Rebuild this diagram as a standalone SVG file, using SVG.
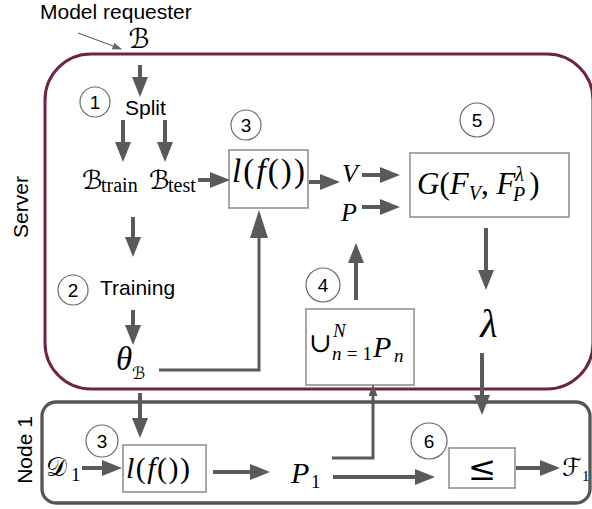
<svg xmlns="http://www.w3.org/2000/svg" width="592" height="509" viewBox="0 0 592 509">
  <defs>
    <style>
      .lbl { font-family: "Liberation Sans", Arial, sans-serif; font-size: 21px; fill: #000; }
      .num { font-family: "Liberation Sans", Arial, sans-serif; font-size: 19px; fill: #000; text-anchor: middle; }
      .m { font-family: "Liberation Serif", "Times New Roman", serif; fill: #000; }
      .it { font-style: italic; }
      .scr { font-family: "DejaVu Serif", "DejaVu Sans", serif; font-style: normal; fill: #000; }
      .box { fill: #fff; stroke: #8a8a8a; stroke-width: 1.5; }
      .step { fill: #fff; stroke: #6a6a6a; stroke-width: 1.2; }
      .arr { fill: none; stroke: #5a5a5a; stroke-width: 4; }
      .arr3 { fill: none; stroke: #5a5a5a; stroke-width: 3; }
    </style>
    <marker id="ah" viewBox="0 0 20 16" refX="0" refY="8" markerWidth="20" markerHeight="16" markerUnits="userSpaceOnUse" orient="auto">
      <path d="M0,0 L20,8 L0,16 Z" fill="#5a5a5a"/>
    </marker>
    <marker id="ahl" viewBox="0 0 28 18" refX="0" refY="9" markerWidth="28" markerHeight="18" markerUnits="userSpaceOnUse" orient="auto">
      <path d="M0,0 L28,9 L0,18 Z" fill="#5a5a5a"/>
    </marker>
    <marker id="ahs" viewBox="0 0 12 9" refX="0" refY="4.5" markerWidth="12" markerHeight="9" markerUnits="userSpaceOnUse" orient="auto">
      <path d="M0,0 L12,4.5 L0,9 Z" fill="#5a5a5a"/>
    </marker>
    <marker id="aht" viewBox="0 0 10 7" refX="0" refY="3.5" markerWidth="10" markerHeight="7" markerUnits="userSpaceOnUse" orient="auto">
      <path d="M0,0 L10,3.5 L0,7 Z" fill="#666"/>
    </marker>
  </defs>

  <rect width="592" height="509" fill="#fff"/>

  <!-- containers -->
  <g id="server">
    <rect x="45" y="54" width="548" height="335" rx="46" fill="none" stroke="#702348" stroke-width="3"/>
    <text class="lbl" transform="translate(28,207) rotate(-90)" text-anchor="middle">Server</text>
  </g>
  <g id="node1">
    <rect x="42" y="402" width="548" height="101" rx="14" fill="none" stroke="#555" stroke-width="3.3"/>
    <text class="lbl" transform="translate(32,450) rotate(-90)" text-anchor="middle">Node 1</text>
  </g>

  <!-- requester -->
  <g id="requester">
    <text class="lbl" x="40" y="19">Model requester</text>
    <text class="scr" x="139" y="48" font-size="27" text-anchor="middle">ℬ</text>
  </g>

  <!-- server side -->
  <g id="split">
    <text class="lbl" x="125" y="115">Split</text>
  </g>
  <g id="b-train">
    <text class="scr" x="82" y="189" font-size="26">ℬ</text>
    <text class="m" x="101" y="192" font-size="20">train</text>
  </g>
  <g id="b-test">
    <text class="scr" x="149" y="189" font-size="26">ℬ</text>
    <text class="m" x="168" y="192" font-size="20">test</text>
  </g>
  <g id="training">
    <text class="lbl" x="100" y="295">Training</text>
  </g>
  <g id="theta">
    <text class="m it" x="116" y="370" font-size="33">θ</text>
    <text class="scr" x="132" y="379" font-size="17">ℬ</text>
  </g>
  <g id="loss-server">
    <rect class="box" x="229" y="150" width="79" height="58"/>
    <text class="m" x="232" y="182" font-size="33" textLength="73" lengthAdjust="spacing"><tspan class="it">l</tspan>(<tspan class="it">f</tspan>())</text>
  </g>
  <g id="v-p">
    <text class="m it" x="342" y="182" font-size="26">V</text>
    <text class="m it" x="341" y="221" font-size="26">P</text>
  </g>
  <g id="g-box">
    <rect class="box" x="410" y="153" width="159" height="64"/>
    <text class="m" x="417" y="194" font-size="31"><tspan class="it">G</tspan>(<tspan class="it">F</tspan><tspan class="it" font-size="20" dy="6">V</tspan><tspan dy="-6">, </tspan><tspan class="it">F</tspan><tspan font-size="20" dy="-13" class="it">λ</tspan><tspan class="it" font-size="20" dx="-11" dy="20">P</tspan><tspan dy="-7" dx="4">)</tspan></text>
  </g>
  <g id="lambda">
    <text class="m it" x="489" y="337" font-size="40" text-anchor="middle">λ</text>
  </g>
  <g id="union">
    <rect class="box" x="306" y="309" width="108" height="76"/>
    <text class="scr" x="309" y="352" font-size="27">∪</text>
    <text class="m it" x="333" y="337" font-size="19">N</text>
    <text class="m" x="332" y="360" font-size="19" textLength="40" lengthAdjust="spacing"><tspan class="it">n</tspan>=1</text>
    <text class="m it" x="373" y="357" font-size="30">P</text>
    <text class="m it" x="394" y="362" font-size="19">n</text>
  </g>

  <!-- node side -->
  <g id="d1">
    <text class="scr" x="46" y="476" font-size="26">𝒟</text>
    <text class="m" x="71" y="481" font-size="19">1</text>
  </g>
  <g id="loss-node">
    <rect class="box" x="123" y="445" width="83" height="47"/>
    <text class="m" x="126" y="478" font-size="30" textLength="64" lengthAdjust="spacing"><tspan class="it">l</tspan>(<tspan class="it">f</tspan>())</text>
  </g>
  <g id="p1">
    <text class="m it" x="291" y="483" font-size="30">P</text>
    <text class="m" x="311" y="488" font-size="19">1</text>
  </g>
  <g id="compare">
    <rect class="box" x="449" y="448" width="66" height="40"/>
    <text class="scr" x="482" y="480" font-size="34" text-anchor="middle">≤</text>
  </g>
  <g id="f1">
    <text class="scr" x="562" y="476" font-size="25">ℱ</text>
    <text class="m" x="582" y="481" font-size="15">1</text>
  </g>

  <!-- step markers -->
  <g id="steps">
    <circle class="step" cx="95" cy="102" r="15"/><text class="num" x="95" y="109">1</text>
    <circle class="step" cx="73" cy="290" r="15"/><text class="num" x="73" y="297">2</text>
    <circle class="step" cx="246" cy="125" r="15"/><text class="num" x="246" y="132">3</text>
    <circle class="step" cx="323" cy="285" r="17"/><text class="num" x="323" y="292">4</text>
    <circle class="step" cx="477" cy="120" r="17"/><text class="num" x="477" y="127">5</text>
    <circle class="step" cx="102" cy="441" r="16"/><text class="num" x="102" y="448">3</text>
    <circle class="step" cx="429" cy="441" r="18"/><text class="num" x="429" y="448">6</text>
  </g>

  <!-- connectors -->
  <g id="connectors">
    <path d="M78,33 L113,46" fill="none" stroke="#666" stroke-width="1.3" marker-end="url(#aht)"/>
    <path class="arr" d="M140,65 V77" marker-end="url(#ah)"/>
    <path class="arr" d="M123,120 V142" marker-end="url(#ah)"/>
    <path class="arr" d="M165,120 V142" marker-end="url(#ah)"/>
    <path class="arr" d="M198,180 H210" marker-end="url(#ah)"/>
    <path class="arr" d="M309,182 H320" marker-end="url(#ah)"/>
    <path class="arr" d="M362,175 H380" marker-end="url(#ah)"/>
    <path class="arr" d="M362,207 H380" marker-end="url(#ah)"/>
    <path class="arr" d="M133,217 V237" marker-end="url(#ah)"/>
    <path class="arr" d="M133,310 V325" marker-end="url(#ah)"/>
    <path class="arr3" d="M159,370 H259 V238" marker-end="url(#ahl)"/>
    <path class="arr" d="M486,228 V270" marker-end="url(#ah)"/>
    <path class="arr" d="M356,300 V263" marker-end="url(#ah)"/>
    <path class="arr" d="M482,353 V395" marker-end="url(#ah)"/>
    <path class="arr" d="M140,393 V418" marker-end="url(#ah)"/>
    <path class="arr" d="M82,468 H102" marker-end="url(#ah)"/>
    <path class="arr" d="M213,472 H250" marker-end="url(#ah)"/>
    <path class="arr" d="M333,477 H415" marker-end="url(#ah)"/>
    <path class="arr" d="M516,468 H540" marker-end="url(#ah)"/>
    <path class="arr3" d="M332,458 H373 V396" marker-end="url(#ahs)"/>
  </g>
</svg>
